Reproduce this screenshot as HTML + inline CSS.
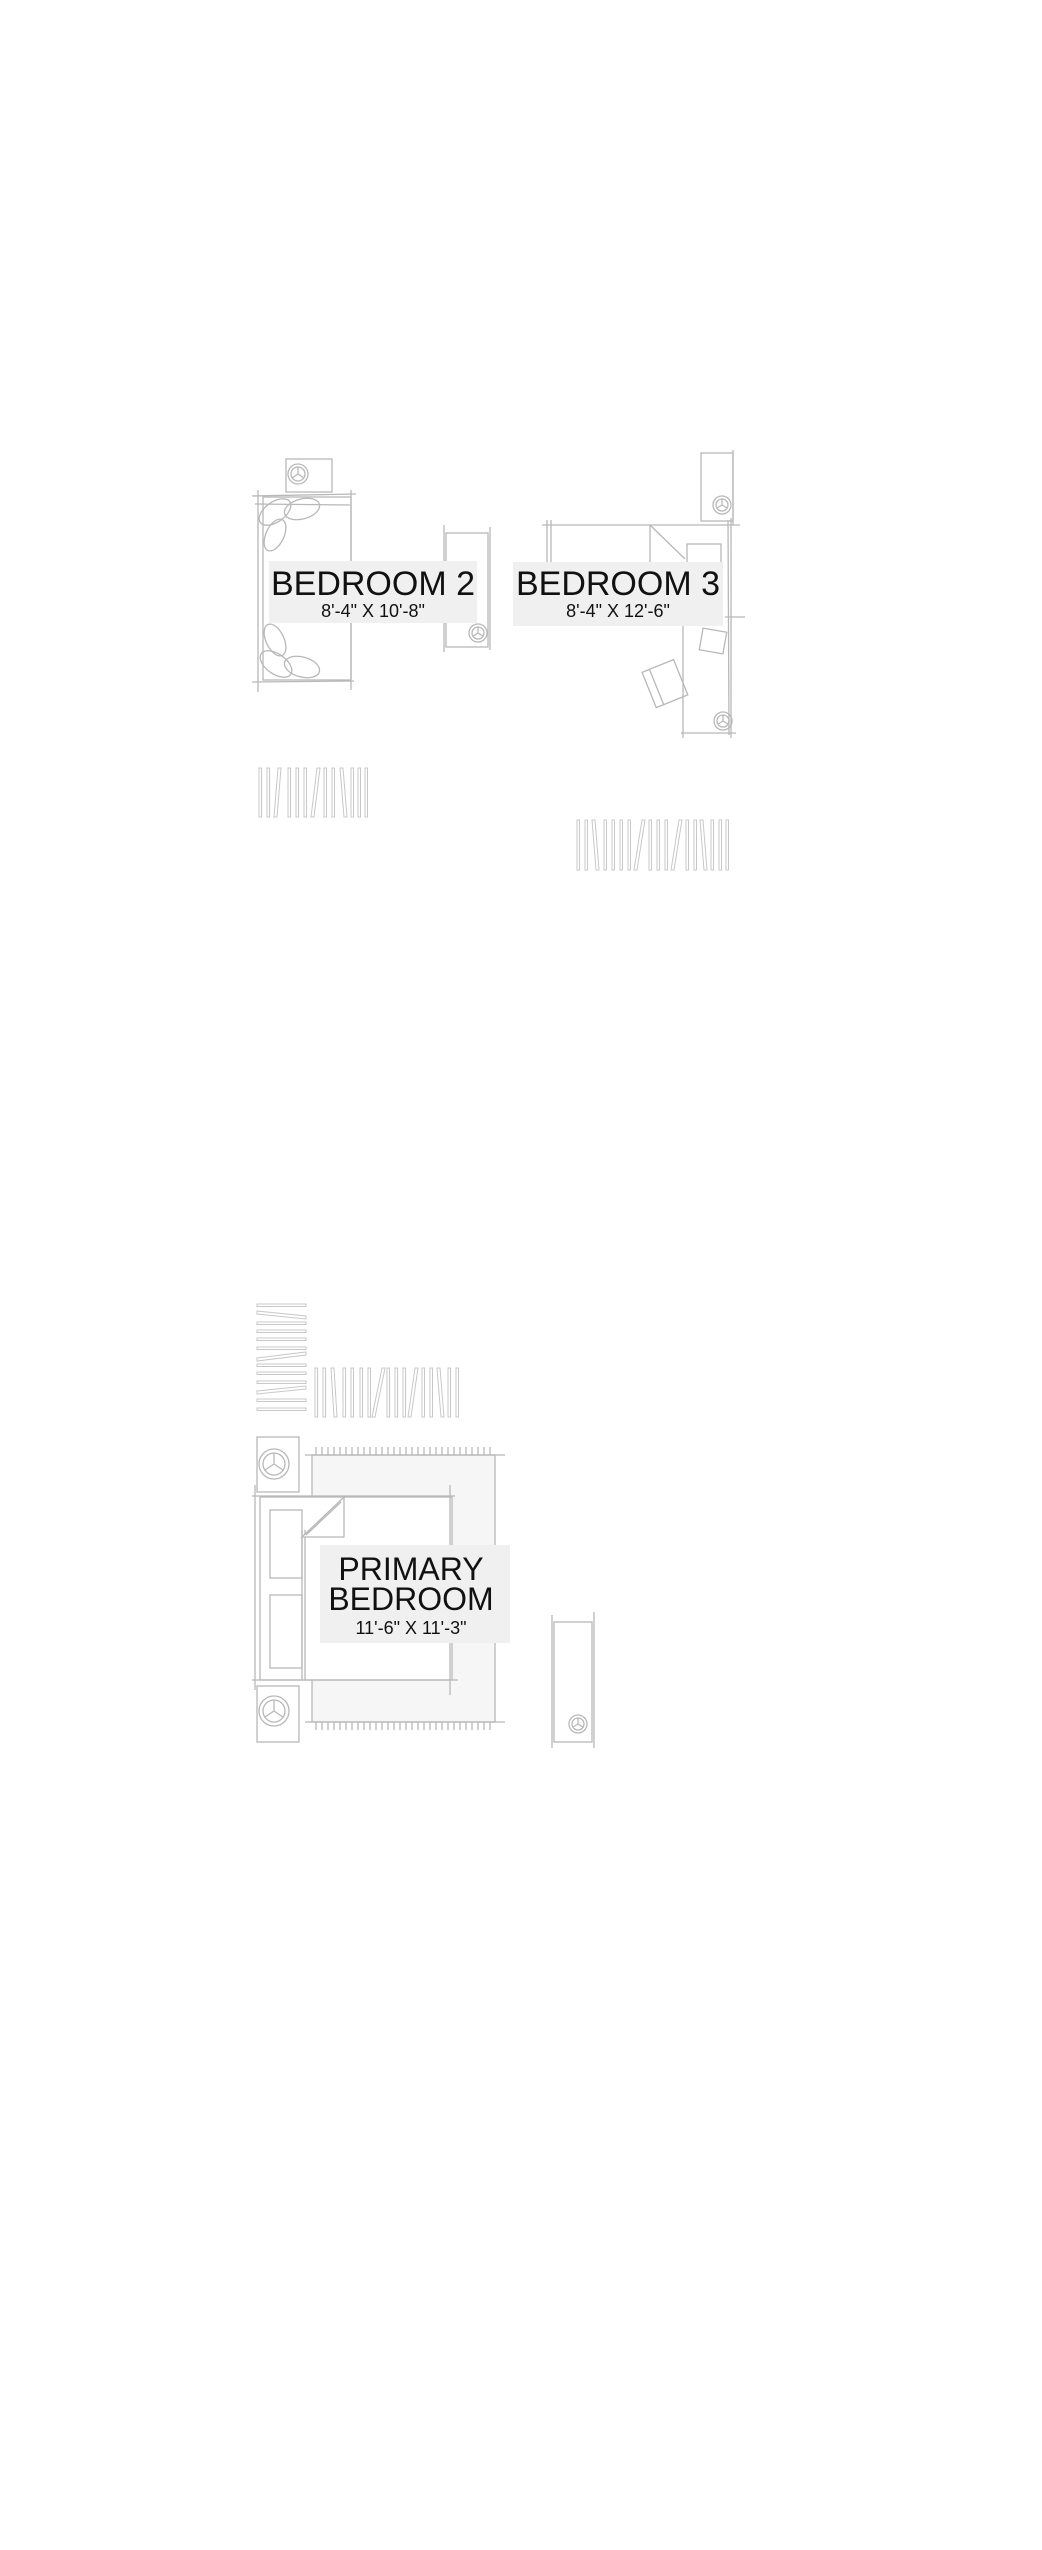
<!DOCTYPE html>
<html><head><meta charset="utf-8"><style>
html,body{margin:0;padding:0;background:#fff;}
svg{display:block}
text{font-family:"Liberation Sans",sans-serif;fill:#111}
</style></head><body>
<svg width="1042" height="2550" viewBox="0 0 1042 2550" xmlns="http://www.w3.org/2000/svg">
<g fill="none" stroke="#b8b8b8" stroke-width="1.3">
<!-- BEDROOM 2 -->
<rect x="263" y="497" width="88" height="183"/>
<line x1="252" y1="496" x2="356" y2="494"/><line x1="252" y1="682" x2="354" y2="681"/>
<line x1="258" y1="490" x2="258" y2="692"/><line x1="351" y1="490" x2="351" y2="690"/>
<line x1="255" y1="504" x2="350" y2="505"/>
<rect x="286" y="459" width="46" height="33"/>
<circle cx="298" cy="474" r="10"/><circle cx="298" cy="474" r="7"/>
<path d="M298 474 L298 467 M298 474 L292 478 M298 474 L304 478"/>
<ellipse cx="275" cy="512" rx="18" ry="10" transform="rotate(-35 275 512)"/>
<ellipse cx="302" cy="509" rx="18" ry="10" transform="rotate(-15 302 509)"/>
<ellipse cx="275" cy="535" rx="17" ry="9" transform="rotate(-65 275 535)"/>
<ellipse cx="275" cy="640" rx="17" ry="9" transform="rotate(65 275 640)"/>
<ellipse cx="276" cy="664" rx="18" ry="10" transform="rotate(35 276 664)"/>
<ellipse cx="302" cy="667" rx="18" ry="10" transform="rotate(15 302 667)"/>
<rect x="446" y="533" width="42" height="114"/>
<line x1="444" y1="525" x2="444" y2="652"/><line x1="490" y1="527" x2="490" y2="650"/>
<circle cx="478" cy="633" r="9"/><circle cx="478" cy="633" r="6"/>
<path d="M478 633 L478 627 M478 633 L473 636 M478 633 L483 636"/>
<!-- BEDROOM 3 -->
<rect x="701" y="453" width="32" height="68"/>
<line x1="733" y1="450" x2="733" y2="525"/>
<circle cx="722" cy="505" r="9"/><circle cx="722" cy="505" r="6"/>
<path d="M722 505 L722 499 M722 505 L717 508 M722 505 L727 508"/>
<line x1="542" y1="525" x2="740" y2="525"/>
<line x1="547" y1="520" x2="547" y2="565"/><line x1="551" y1="520" x2="551" y2="565"/>
<line x1="731" y1="518" x2="731" y2="738"/><line x1="728" y1="520" x2="729" y2="735"/>
<line x1="683" y1="620" x2="683" y2="738"/>
<line x1="681" y1="733" x2="736" y2="733"/>
<line x1="650" y1="525" x2="685" y2="559"/><line x1="650" y1="525" x2="650" y2="562"/>
<path d="M687 562 L687 544 L721 544 L721 562"/>
<line x1="725" y1="617" x2="745" y2="617"/>
<rect x="701" y="630" width="24" height="22" transform="rotate(10 713 641)"/>
<g transform="rotate(-22 664 684)"><rect x="648" y="665" width="34" height="38"/><line x1="656" y1="665" x2="656" y2="703"/></g>
<circle cx="723" cy="721" r="9"/><circle cx="723" cy="721" r="6"/>
<path d="M723 721 L723 715 M723 721 L718 724 M723 721 L728 724"/>
</g>
<!-- hatches -->
<g fill="none" stroke="#c8c8c8" stroke-width="1">
<rect x="259" y="768" width="2.5" height="49"/><rect x="267" y="768" width="2.5" height="49"/>
<polygon points="278,768 281,768 277,817 274,817"/>
<rect x="288" y="768" width="2.5" height="49"/><rect x="296" y="768" width="2.5" height="49"/><rect x="304" y="768" width="2.5" height="49"/>
<polygon points="317,768 320,768 314,817 311,817"/>
<rect x="324" y="768" width="2.5" height="49"/><rect x="332" y="768" width="2.5" height="49"/>
<polygon points="340,768 343,768 347,817 344,817"/>
<rect x="351" y="768" width="2.5" height="49"/><rect x="358" y="768" width="2.5" height="49"/><rect x="365" y="768" width="2.5" height="49"/>

<rect x="577" y="820" width="2.5" height="50"/><rect x="585" y="820" width="2.5" height="50"/>
<polygon points="592,820 595,820 599,870 596,870"/>
<rect x="604" y="820" width="2.5" height="50"/><rect x="612" y="820" width="2.5" height="50"/><rect x="620" y="820" width="2.5" height="50"/><rect x="628" y="820" width="2.5" height="50"/>
<polygon points="642,820 645,820 637,870 634,870"/>
<rect x="649" y="820" width="2.5" height="50"/><rect x="657" y="820" width="2.5" height="50"/><rect x="665" y="820" width="2.5" height="50"/>
<polygon points="679,820 682,820 674,870 671,870"/>
<rect x="686" y="820" width="2.5" height="50"/><rect x="694" y="820" width="2.5" height="50"/>
<polygon points="700,820 703,820 707,870 704,870"/>
<rect x="711" y="820" width="2.5" height="50"/><rect x="719" y="820" width="2.5" height="50"/><rect x="726" y="820" width="2.5" height="50"/>

<rect x="257" y="1304" width="49" height="2.5"/>
<polygon points="257,1311 306,1316 306,1319 257,1314"/>
<rect x="257" y="1322" width="49" height="2.5"/><rect x="257" y="1330" width="49" height="2.5"/><rect x="257" y="1338" width="49" height="2.5"/><rect x="257" y="1347" width="49" height="2.5"/>
<polygon points="257,1358 306,1352 306,1355 257,1361"/>
<rect x="257" y="1364" width="49" height="2.5"/><rect x="257" y="1372" width="49" height="2.5"/><rect x="257" y="1381" width="49" height="2.5"/>
<polygon points="257,1391 306,1386 306,1389 257,1394"/>
<rect x="257" y="1399" width="49" height="2.5"/><rect x="257" y="1408" width="49" height="2.5"/>

<rect x="315" y="1368" width="2.5" height="49"/><rect x="323" y="1368" width="2.5" height="49"/>
<polygon points="331,1368 334,1368 337,1417 334,1417"/>
<rect x="343" y="1368" width="2.5" height="49"/><rect x="351" y="1368" width="2.5" height="49"/><rect x="360" y="1368" width="2.5" height="49"/><rect x="368" y="1368" width="2.5" height="49"/>
<polygon points="382,1368 385,1368 375,1417 372,1417"/>
<rect x="387" y="1368" width="2.5" height="49"/><rect x="395" y="1368" width="2.5" height="49"/><rect x="403" y="1368" width="2.5" height="49"/>
<polygon points="415,1368 418,1368 411,1417 408,1417"/>
<rect x="422" y="1368" width="2.5" height="49"/><rect x="430" y="1368" width="2.5" height="49"/>
<polygon points="437,1368 440,1368 444,1417 441,1417"/>
<rect x="448" y="1368" width="2.5" height="49"/><rect x="456" y="1368" width="2.5" height="49"/>
</g>
<!-- PRIMARY -->
<rect x="312" y="1455" width="183" height="267" fill="#f6f6f6"/>
<g fill="none" stroke="#b8b8b8" stroke-width="1.3">
<rect x="312" y="1455" width="183" height="267"/>
<line x1="305" y1="1455" x2="505" y2="1455"/><line x1="305" y1="1722" x2="505" y2="1722"/>
<path d="M316 1447V1455M322 1447V1455M328 1447V1455M334 1447V1455M340 1447V1455M346 1447V1455M352 1447V1455M358 1447V1455M364 1447V1455M370 1447V1455M376 1447V1455M382 1447V1455M388 1447V1455M394 1447V1455M400 1447V1455M406 1447V1455M412 1447V1455M418 1447V1455M424 1447V1455M430 1447V1455M436 1447V1455M442 1447V1455M448 1447V1455M454 1447V1455M460 1447V1455M466 1447V1455M472 1447V1455M478 1447V1455M484 1447V1455M490 1447V1455"/>
<path d="M316 1722V1730M322 1722V1730M328 1722V1730M334 1722V1730M340 1722V1730M346 1722V1730M352 1722V1730M358 1722V1730M364 1722V1730M370 1722V1730M376 1722V1730M382 1722V1730M388 1722V1730M394 1722V1730M400 1722V1730M406 1722V1730M412 1722V1730M418 1722V1730M424 1722V1730M430 1722V1730M436 1722V1730M442 1722V1730M448 1722V1730M454 1722V1730M460 1722V1730M466 1722V1730M472 1722V1730M478 1722V1730M484 1722V1730M490 1722V1730"/>
<rect x="260" y="1497" width="192" height="183" fill="#fff"/>
<line x1="252" y1="1496" x2="455" y2="1496"/><line x1="252" y1="1680" x2="458" y2="1680"/>
<line x1="450" y1="1485" x2="450" y2="1695"/><line x1="255" y1="1485" x2="255" y2="1690"/>
<line x1="302" y1="1530" x2="302" y2="1680"/><line x1="305" y1="1530" x2="305" y2="1680"/>
<rect x="270" y="1510" width="32" height="68"/><rect x="270" y="1595" width="32" height="73"/>
<polygon points="302,1537 344,1497 344,1537" fill="#fff"/>
<line x1="306" y1="1535" x2="341" y2="1502"/>
<rect x="257" y="1437" width="42" height="55" fill="#fff"/>
<circle cx="274" cy="1464" r="15"/><circle cx="274" cy="1464" r="11"/>
<path d="M274 1464L274 1453M274 1464L265 1470M274 1464L283 1470"/>
<rect x="257" y="1686" width="42" height="56" fill="#fff"/>
<circle cx="274" cy="1711" r="15"/><circle cx="274" cy="1711" r="11"/>
<path d="M274 1711L274 1700M274 1711L265 1717M274 1711L283 1717"/>
<rect x="554" y="1622" width="38" height="120"/>
<line x1="552" y1="1615" x2="552" y2="1748"/><line x1="594" y1="1612" x2="594" y2="1748"/>
<circle cx="578" cy="1724" r="9"/><circle cx="578" cy="1724" r="6"/>
<path d="M578 1724L578 1718M578 1724L573 1727M578 1724L583 1727"/>
</g>
<!-- labels -->
<rect x="269" y="561" width="208" height="62" fill="#f0f0f0"/>
<text x="373" y="595" font-size="34" text-anchor="middle">BEDROOM 2</text>
<text x="373" y="617" font-size="18" text-anchor="middle">8'-4" X 10'-8"</text>
<rect x="513" y="562" width="210" height="64" fill="#f0f0f0"/>
<text x="618" y="595" font-size="34" text-anchor="middle">BEDROOM 3</text>
<text x="618" y="617" font-size="18" text-anchor="middle">8'-4" X 12'-6"</text>
<rect x="320" y="1545" width="190" height="98" fill="#f0f0f0"/>
<text x="411" y="1580" font-size="32" text-anchor="middle">PRIMARY</text>
<text x="411" y="1610" font-size="32" text-anchor="middle">BEDROOM</text>
<text x="411" y="1634" font-size="18" text-anchor="middle">11'-6" X 11'-3"</text>
</svg>
</body></html>
